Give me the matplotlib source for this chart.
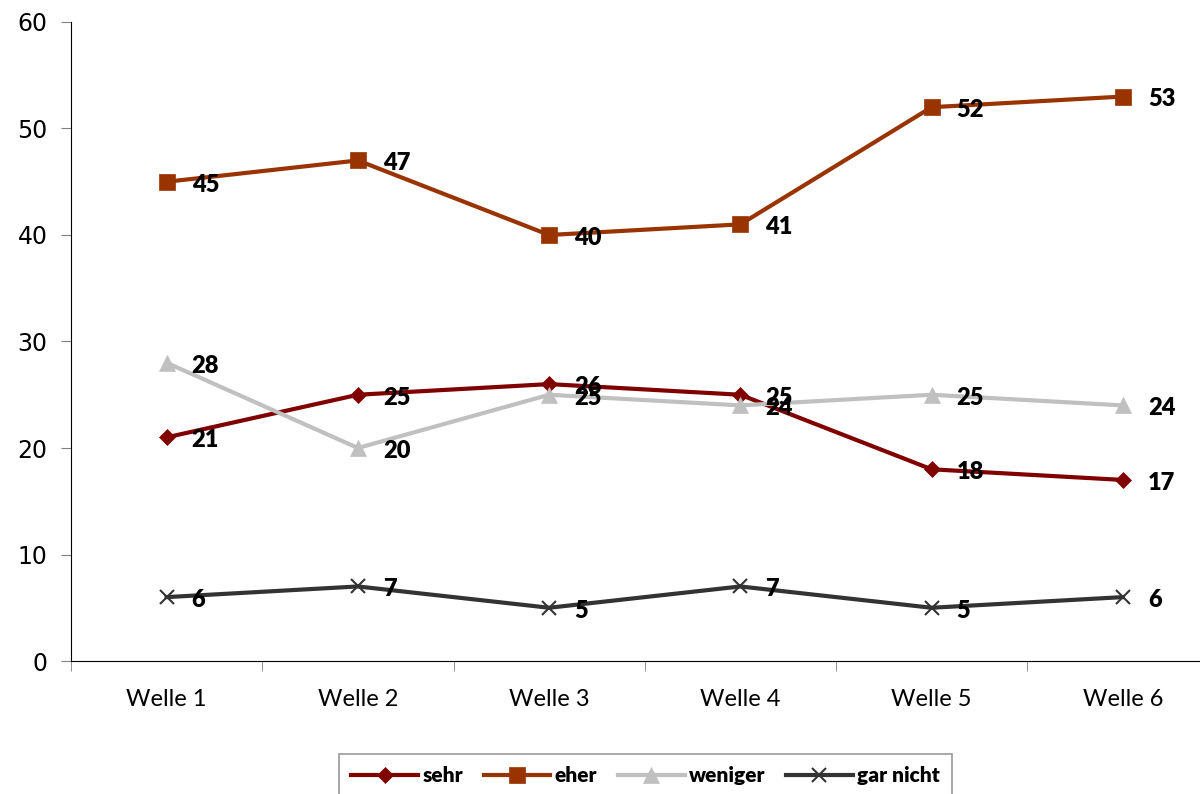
import numpy as np
import matplotlib.pyplot as plt
from matplotlib.ticker import FixedLocator

# Wellen und Werte
waves = ['Welle 1', 'Welle 2', 'Welle 3', 'Welle 4', 'Welle 5', 'Welle 6']
sehr = [21, 25, 26, 25, 18, 17]
eher = [45, 47, 40, 41, 52, 53]
weniger = [28, 20, 25, 24, 25, 24]
gar_nicht = [6, 7, 5, 7, 5, 6]

series = [
    ('sehr', sehr, '#800000', 'D', 8),
    ('eher', eher, '#993300', 's', 12),
    ('weniger', weniger, '#C0C0C0', '^', 12),
    ('gar nicht', gar_nicht, '#333333', 'x', 10),
]

fig = plt.figure(figsize=(12, 7.94), dpi=100)
ax = fig.add_axes([0.0592, 0.1675, 0.9562, 0.8048])

x = np.arange(len(waves))
for name, vals, col, mk, ms in series:
    ax.plot(x, vals, color=col, lw=3, marker=mk, markersize=ms,
            markeredgewidth=1.5 if mk == 'x' else 0.5, markeredgecolor=col,
            label=name)
    for xi, v in zip(x, vals):
        ax.annotate(str(v), (xi, v), xytext=(18, -2), textcoords='offset points',
                    ha='left', va='center', fontsize=17, fontweight='heavy',
                    family='Lato', color='black')

ax.set_xlim(-0.5, 5.5)
ax.set_ylim(0, 60)
ax.set_yticks(range(0, 61, 10))
ax.set_xticks(x)
ax.set_xticklabels(waves)
ax.xaxis.set_minor_locator(FixedLocator(np.arange(-0.5, 6, 1)))
ax.tick_params(axis='x', which='major', length=0, pad=20, labelsize=17)
ax.tick_params(axis='x', which='minor', length=7, direction='out', color='#808080')
ax.tick_params(axis='y', length=7, direction='out', color='#808080', labelsize=17, pad=10)
for lab in ax.get_xticklabels():
    lab.set_family('Lato')
for lab in ax.get_yticklabels():
    lab.set_family('DejaVu Sans')

ax.spines['top'].set_visible(False)
ax.spines['right'].set_visible(False)
ax.spines['left'].set_color('black')
ax.spines['bottom'].set_color('black')

leg = fig.legend(loc='lower center', bbox_to_anchor=(0.538, -0.018), ncol=4,
                 frameon=True, fancybox=False, edgecolor='#808080',
                 prop={'family': 'Lato', 'weight': 'heavy', 'size': 15},
                 handlelength=3.2, columnspacing=1.0, handletextpad=0.2,
                 borderpad=0.6)
leg.get_frame().set_linewidth(1.2)

fig.savefig('out.png', dpi=100)
